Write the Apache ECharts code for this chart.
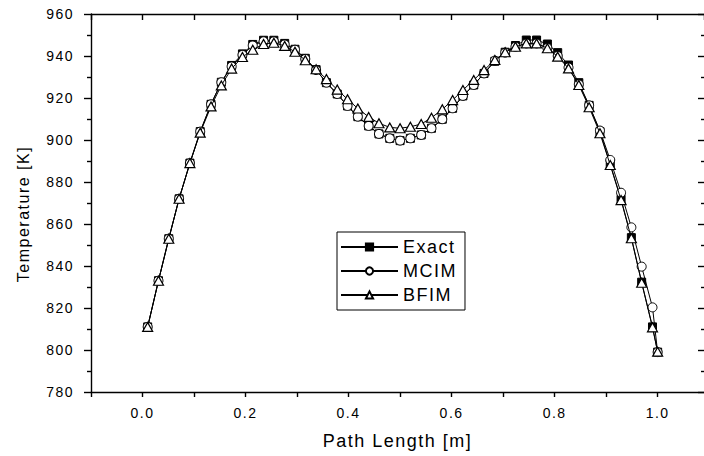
<!DOCTYPE html>
<html>
<head>
<meta charset="utf-8">
<script src="https://cdn.jsdelivr.net/npm/echarts@6/dist/echarts.min.js"></script>
<style>
  html, body { margin: 0; padding: 0; background: #fff; }
  #chart { width: 704px; height: 456px; }
  #chart text { letter-spacing: 1.5px; }
</style>
</head>
<body>
<div id="chart"></div>
<script>
// Path positions along the line of sight [m]
const pathLength = [
  0.010, 0.031, 0.051, 0.071, 0.092, 0.112, 0.133, 0.153, 0.173, 0.194,
  0.214, 0.235, 0.255, 0.276, 0.296, 0.316, 0.337, 0.357, 0.378, 0.398,
  0.418, 0.439, 0.459, 0.480, 0.500, 0.520, 0.541, 0.561, 0.582, 0.602,
  0.622, 0.643, 0.663, 0.684, 0.704, 0.724, 0.745, 0.765, 0.786, 0.806,
  0.827, 0.847, 0.867, 0.888, 0.908, 0.929, 0.949, 0.969, 0.990, 1.000
];

// Temperature [K]
const exactT = [
  811, 833, 853, 872, 889, 904, 917, 927.5, 935.5, 941,
  945.5, 947.5, 947.5, 946, 943.2, 938.9, 933.5, 927.3, 921.9, 916.2,
  911.1, 906.7, 902.9, 900.8, 899.7, 900.8, 902.4, 905.6, 909.9, 915.1,
  921, 926.2, 931.7, 937.5, 941.8, 945, 947.6, 947.6, 945.7, 941.6,
  935.7, 927.3, 916.5, 904, 888.5, 871.8, 853.5, 832.3, 811, 799
];
const mcimT = [
  811, 833, 853, 872, 889, 904, 917, 927.5, 935, 940.5,
  945, 947, 947, 945.5, 943, 938.6, 933.3, 927.3, 921.9, 916.2,
  911.1, 906.7, 902.9, 900.8, 899.7, 900.8, 902.4, 905.6, 909.9, 915.1,
  921, 926.2, 931.7, 937.8, 941.6, 944.4, 946, 946, 943.8, 940,
  934.5, 926.5, 916.5, 904.5, 890.5, 874.9, 858.4, 839.7, 820.3, 799
];
const bfimT = [
  811, 833, 853, 872, 889, 903.5, 916, 926, 934, 939.5,
  943, 945.7, 946.3, 944.8, 942, 938, 933.7, 929, 924, 919.4,
  915, 911, 908, 906, 905.6, 906.3, 907.6, 910.6, 914.6, 919,
  923.8, 928.6, 933.3, 938.1, 941.8, 944.4, 946, 946, 943.7, 939.7,
  934.1, 926.2, 915.6, 903.2, 888.1, 871.4, 853.2, 832, 810.8, 799.2
];

// Axis ranges
const xMin = -0.1, xMax = 1.09, xStep = 0.1;
const yMin = 780, yMax = 960, yStep = 20;

const pairs = (ys) => pathLength.map((x, i) => [x, ys[i]]);

// Label only the even tenths (0.0, 0.2, ... 1.0)
const xLabel = (v) => {
  const t = v * 10;
  const r = Math.round(t);
  if (Math.abs(t - r) > 1e-6 || r % 2 !== 0 || r < 0) return '';
  return v.toFixed(1);
};

const FONT = 'Liberation Sans, Arial, Helvetica, sans-serif';
const black = '#000';
const tickLine = { color: black, width: 1.4 };
const frameLine = { color: black, width: 1.4 };

const chart = echarts.init(document.getElementById('chart'), null, { renderer: 'svg' });

chart.setOption({
  backgroundColor: '#fff',
  animation: false,
  textStyle: { fontFamily: FONT, color: black },
  grid: { left: 91, top: 14, width: 613, height: 378, containLabel: false },
  legend: {
    orient: 'vertical',
    left: 337, top: 232,
    data: ['Exact', 'MCIM', 'BFIM'],
    itemWidth: 57, itemHeight: 9, itemGap: 4,
    padding: [5, 14, 5, 3],
    borderColor: black, borderWidth: 1, backgroundColor: '#fff',
    textStyle: { fontSize: 18, color: black, fontFamily: FONT, lineHeight: 20 }
  },
  xAxis: [
    {
      type: 'value', position: 'bottom', min: xMin, max: xMax, interval: xStep,
      splitLine: { show: false },
      axisLine: { show: true, onZero: false, lineStyle: frameLine },
      axisTick: { show: true, length: 5, lineStyle: tickLine },
      axisLabel: {
        show: true, margin: 14, showMaxLabel: false,
        fontSize: 14, color: black, fontFamily: FONT,
        formatter: xLabel
      },
      name: 'Path Length [m]', nameLocation: 'middle', nameGap: 40,
      nameTextStyle: { fontSize: 18, color: black, fontFamily: FONT }
    },
    {
      type: 'value', position: 'top', min: xMin, max: xMax, interval: xStep,
      splitLine: { show: false },
      axisLine: { show: true, onZero: false, lineStyle: frameLine },
      axisTick: { show: true, inside: true, length: 6, lineStyle: tickLine },
      axisLabel: { show: false }
    }
  ],
  yAxis: [
    {
      type: 'value', position: 'left', min: yMin, max: yMax, interval: yStep,
      splitLine: { show: false },
      axisLine: { show: true, onZero: false, lineStyle: frameLine },
      axisTick: { show: true, length: 7, lineStyle: tickLine },
      minorTick: { show: true, splitNumber: 2, length: 4, lineStyle: tickLine },
      axisLabel: { fontSize: 14, color: black, fontFamily: FONT, margin: 17 },
      name: 'Temperature [K]', nameLocation: 'middle', nameGap: 60,
      nameTextStyle: { fontSize: 16, color: black, fontFamily: FONT, padding: [0, 22, 0, 0] }
    },
    {
      type: 'value', position: 'right', min: yMin, max: yMax, interval: yStep,
      splitLine: { show: false },
      axisLine: { show: false, onZero: false },
      axisTick: { show: true, inside: true, length: 6, lineStyle: tickLine },
      minorTick: { show: true, splitNumber: 2, length: 3, lineStyle: tickLine },
      axisLabel: { show: false }
    }
  ],
  series: [
    {
      name: 'Exact', type: 'line', data: pairs(exactT),
      symbol: 'rect', symbolSize: 8, showAllSymbol: true,
      lineStyle: { color: black, width: 1 },
      itemStyle: { color: black, borderColor: black, borderWidth: 1 },
      z: 2
    },
    {
      name: 'MCIM', type: 'line', data: pairs(mcimT),
      symbol: 'circle', symbolSize: 9, showAllSymbol: true,
      lineStyle: { color: black, width: 1 },
      itemStyle: { color: '#fff', borderColor: black, borderWidth: 1 },
      z: 3
    },
    {
      name: 'BFIM', type: 'line', data: pairs(bfimT),
      symbol: 'triangle', symbolSize: [10, 9], showAllSymbol: true,
      lineStyle: { color: black, width: 1 },
      itemStyle: { color: '#fff', borderColor: black, borderWidth: 1.2 },
      z: 4
    }
  ]
});
</script>
</body>
</html>
